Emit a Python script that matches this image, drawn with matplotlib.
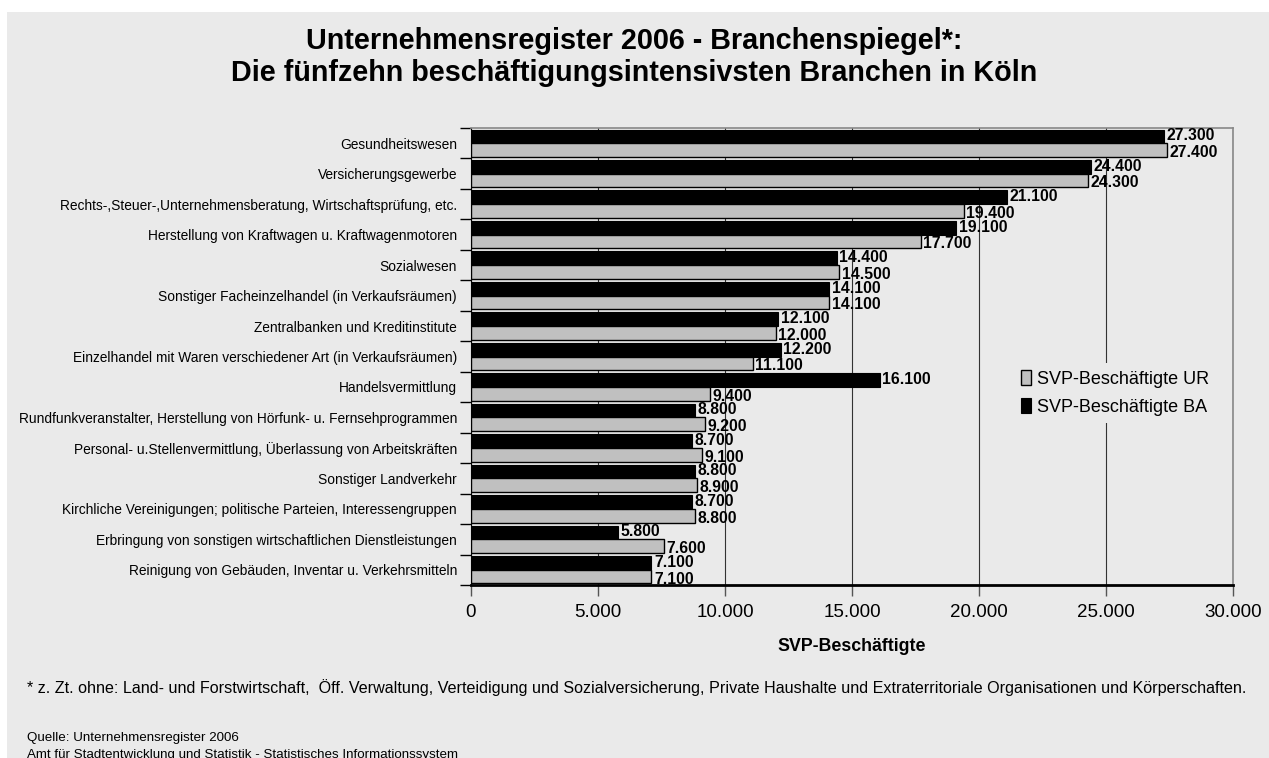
import numpy as np
import matplotlib
matplotlib.use('Agg')
import matplotlib.pyplot as plt
from matplotlib.patches import Rectangle
from matplotlib.ticker import FuncFormatter, MultipleLocator

plt.rcParams['font.family'] = ['Liberation Sans', 'DejaVu Sans']

# Data
branchen = [
    'Gesundheitswesen',
    'Versicherungsgewerbe',
    'Rechts-,Steuer-,Unternehmensberatung, Wirtschaftsprüfung, etc.',
    'Herstellung von Kraftwagen u. Kraftwagenmotoren',
    'Sozialwesen',
    'Sonstiger Facheinzelhandel (in Verkaufsräumen)',
    'Zentralbanken und Kreditinstitute',
    'Einzelhandel mit Waren verschiedener Art (in Verkaufsräumen)',
    'Handelsvermittlung',
    'Rundfunkveranstalter, Herstellung von Hörfunk- u. Fernsehprogrammen',
    'Personal- u.Stellenvermittlung, Überlassung von Arbeitskräften',
    'Sonstiger Landverkehr',
    'Kirchliche Vereinigungen; politische Parteien, Interessengruppen',
    'Erbringung von sonstigen wirtschaftlichen Dienstleistungen',
    'Reinigung von Gebäuden, Inventar u. Verkehrsmitteln',
]
svp_ba = [27300, 24400, 21100, 19100, 14400, 14100, 12100, 12200, 16100, 8800, 8700, 8800, 8700, 5800, 7100]
svp_ur = [27400, 24300, 19400, 17700, 14500, 14100, 12000, 11100, 9400, 9200, 9100, 8900, 8800, 7600, 7100]

bg = '#eaeaea'

def tausender(v, pos=None):
    return f'{int(v):,}'.replace(',', '.')

fig = plt.figure(figsize=(12.69, 7.58), dpi=100)
fig.patches.append(Rectangle((7 / 1269, 0), 1, 1 - 12 / 758, transform=fig.transFigure,
                             facecolor=bg, edgecolor='none', zorder=-10))

ax = fig.add_axes([471 / 1269, 1 - 585 / 758, 762 / 1269, 457 / 758])
ax.set_facecolor(bg)

y = np.arange(len(branchen))
h = 0.45
bars_ba = ax.barh(y - h / 2, svp_ba, height=h, color='black', edgecolor='black', lw=0.8,
                  label='SVP-Beschäftigte BA', zorder=3)
bars_ur = ax.barh(y + h / 2, svp_ur, height=h, color='#c0c0c0', edgecolor='black', lw=1.0,
                  label='SVP-Beschäftigte UR', zorder=3)

# value labels
for yy, v in zip(y, svp_ba):
    ax.text(v + 100, yy - h / 2 - 0.02, tausender(v), va='center', ha='left', fontsize=11.3,
            fontweight='bold', zorder=4)
for yy, v in zip(y, svp_ur):
    ax.text(v + 100, yy + h / 2 + 0.08, tausender(v), va='center', ha='left', fontsize=11.3,
            fontweight='bold', zorder=4)

ax.set_xlim(0, 30000)
ax.set_ylim(len(branchen) - 0.5, -0.5)
ax.xaxis.set_major_locator(MultipleLocator(5000))
ax.xaxis.set_major_formatter(FuncFormatter(tausender))
ax.grid(axis='x', color='#333333', lw=0.8, zorder=0)

ax.set_yticks(y)
ax.set_yticklabels(branchen, fontsize=9.9)
ax.set_yticks(np.arange(len(branchen) + 1) - 0.5, minor=True)
ax.tick_params(axis='y', which='major', length=0, pad=10)
ax.tick_params(axis='y', which='minor', length=8, width=1, color='black')
ax.tick_params(axis='x', length=8, width=1, color='#555555', labelsize=13.5, pad=6)

for s in ['top', 'right']:
    ax.spines[s].set_color('#888888')
    ax.spines[s].set_linewidth(1.2)
ax.spines['left'].set_color('black')
ax.spines['bottom'].set_color('black')
ax.spines['bottom'].set_linewidth(2)

ax.set_xlabel('SVP-Beschäftigte', fontsize=12.8, fontweight='bold', labelpad=12)

handles = [bars_ur, bars_ba]
leg = ax.legend(handles, [b.get_label() for b in handles], loc='center left',
                bbox_to_anchor=(0.7, 0.42), fontsize=13, frameon=True,
                facecolor=bg, edgecolor='none', framealpha=1, fancybox=False,
                handlelength=0.6, handleheight=0.9, handletextpad=0.3, labelspacing=0.55)
leg.set_zorder(5)

fig.text(0.5, 1 - 41 / 758, 'Unternehmensregister 2006 - Branchenspiegel*:', ha='center',
         va='center', fontsize=20.7, fontweight='bold')
fig.text(0.5, 1 - 73 / 758, 'Die fünfzehn beschäftigungsintensivsten Branchen in Köln',
         ha='center', va='center', fontsize=20.7, fontweight='bold')

fig.text(27 / 1269, 1 - 688 / 758,
         '* z. Zt. ohne: Land- und Forstwirtschaft,  Öff. Verwaltung, Verteidigung und Sozialversicherung, '
         'Private Haushalte und Extraterritoriale Organisationen und Körperschaften.',
         ha='left', va='center', fontsize=11.65)
fig.text(27 / 1269, 1 - 738 / 758, 'Quelle: Unternehmensregister 2006', ha='left', va='center',
         fontsize=9.6)
fig.text(27 / 1269, 1 - 755 / 758, 'Amt für Stadtentwicklung und Statistik - Statistisches Informationssystem',
         ha='left', va='center', fontsize=9.6)

fig.savefig('out.png', dpi=100)
